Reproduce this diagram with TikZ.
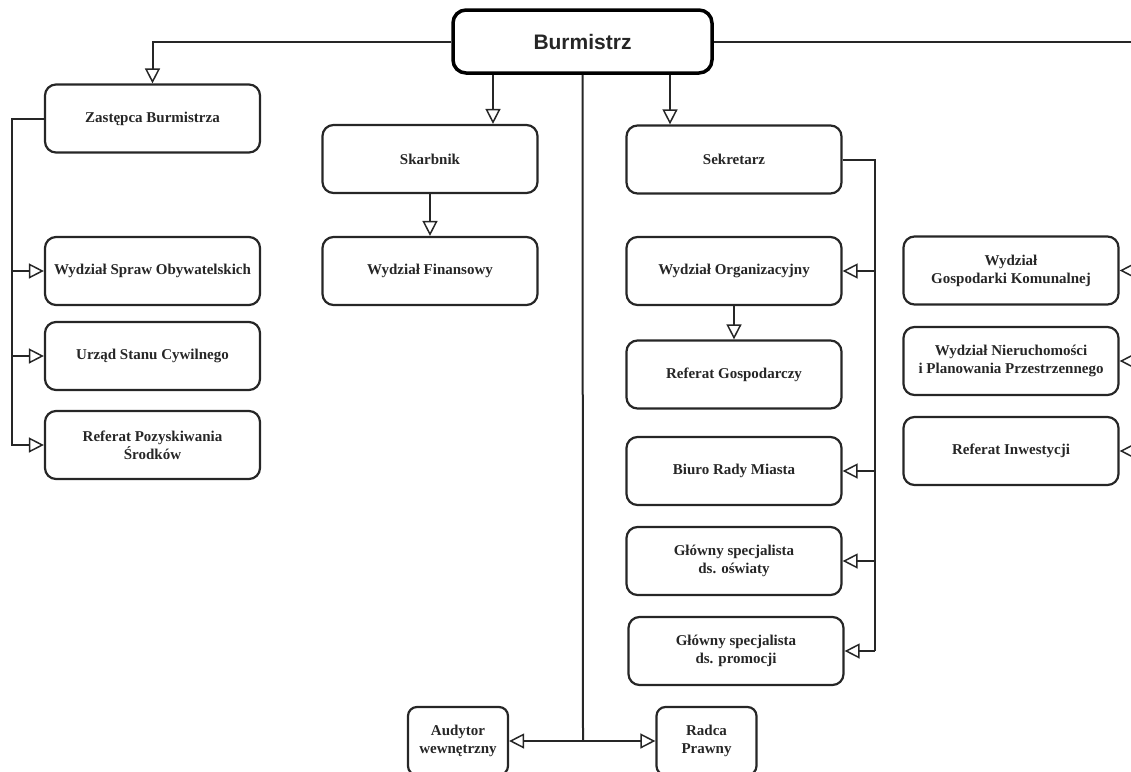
\documentclass[tikz,border=0pt]{standalone}
\usepackage{fontspec}
\setmainfont{Liberation Serif}
\newfontfamily\arialfont{Liberation Sans}
\usetikzlibrary{arrows.meta}
\tikzset{
  unit box/.style={draw=black!85, line width=2.2pt, rounded corners=11pt, align=center,
    font=\bfseries\fontsize{15}{18}\selectfont, text=black!85, inner sep=2pt},
  bigbox/.style={unit box, minimum width=215pt, minimum height=68pt},
  smallbox/.style={unit box, minimum width=100pt, minimum height=68pt, rounded corners=9pt},
  topbox/.style={draw=black, line width=3.5pt, rounded corners=13pt, minimum width=259pt,
    minimum height=63pt, font=\arialfont\bfseries\fontsize{21}{24}\selectfont, text=black!85},
  link/.style={draw=black!85, line width=2pt},
  arr/.style={link, -{Triangle[open, length=15pt, width=15pt, line width=1.5pt]}}
}
\begin{document}
\begin{tikzpicture}[x=1pt, y=-1pt]
\useasboundingbox (0,0) rectangle (1131,771);
% nodes
\node[topbox] (burm) at (582.5,41.5) {Burmistrz};
\node[bigbox] (zast) at (152.5,118.5) {Zastępca Burmistrza};
\node[bigbox] (skarb) at (430,159) {Skarbnik};
\node[bigbox] (finans) at (430,271) {Wydział Finansowy};
\node[bigbox] (sekr) at (734,159.5) {Sekretarz};
\node[bigbox] (org) at (734,271) {Wydział Organizacyjny};
\node[bigbox] (gosp) at (734,374.5) {Referat Gospodarczy};
\node[bigbox] (biuro) at (734,471) {Biuro Rady Miasta};
\node[bigbox] (oswiaty) at (734,561) {Główny specjalista\\ds. oświaty};
\node[bigbox] (promocji) at (736,651) {Główny specjalista\\ds. promocji};
\node[bigbox] (obyw) at (152.5,271) {Wydział Spraw Obywatelskich};
\node[bigbox] (usc) at (152.5,356) {Urząd Stanu Cywilnego};
\node[bigbox] (pozysk) at (152.5,445) {Referat Pozyskiwania\\Środków};
\node[bigbox] (komunal) at (1011,270.5) {Wydział\\Gospodarki Komunalnej};
\node[bigbox] (nieruch) at (1011,361) {Wydział Nieruchomości\\i Planowania Przestrzennego};
\node[bigbox] (inwest) at (1011,451) {Referat Inwestycji};
\node[smallbox] (audytor) at (458,741) {Audytor\\wewnętrzny};
\node[smallbox] (radca) at (706.5,741) {Radca\\Prawny};
% coordinates
\coordinate (redge) at (1131,41.5);
\coordinate (rx) at (1133,0);
\coordinate (zl) at (12,118.5);
\coordinate (zlb) at (12,446);
\coordinate (sr) at (875,159.5);
\coordinate (srb) at (875,651);
\coordinate (b1) at (493,0);
\coordinate (b3) at (670,0);
\coordinate (mid) at (583,741);
% connectors
\draw[arr] (burm.west) -| (zast.north);
\draw[link] (burm.east) -- (redge);
\draw[arr] (b1 |- burm.south) -- (b1 |- skarb.north);
\draw[arr] (b3 |- burm.south) -- (b3 |- sekr.north);
\draw[link] (burm.south) -- (mid);
\draw[arr] (mid) -- (audytor.east);
\draw[arr] (mid) -- (radca.west);
\draw[arr] (skarb.south) -- (finans.north);
\draw[arr] (org.south) -- (gosp.north);
\draw[link] (zast.west) -- (zl) -- (zlb);
\draw[arr] (zl |- obyw.west) -- (obyw.west);
\draw[arr] (zl |- usc.west) -- (usc.west);
\draw[arr] (zl |- pozysk.west) -- (pozysk.west);
\draw[link] (sekr.east) -- (sr) -- (srb);
\draw[arr] (sr |- org.east) -- (org.east);
\draw[arr] (sr |- biuro.east) -- (biuro.east);
\draw[arr] (sr |- oswiaty.east) -- (oswiaty.east);
\draw[arr] (sr |- promocji.east) -- (promocji.east);
\draw[arr] (rx |- komunal.east) -- (komunal.east);
\draw[arr] (rx |- nieruch.east) -- (nieruch.east);
\draw[arr] (rx |- inwest.east) -- (inwest.east);
\end{tikzpicture}
\end{document}
